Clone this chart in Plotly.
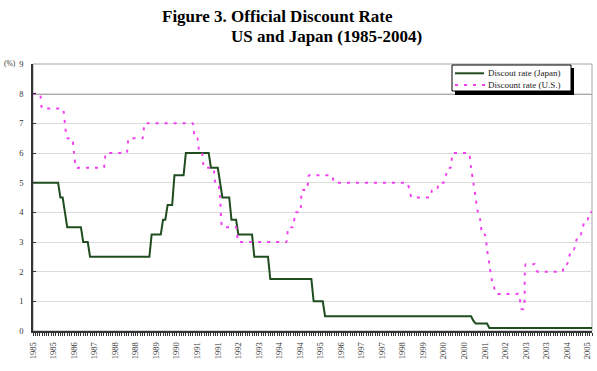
import plotly.graph_objects as go

# Monthly categories: Jan 1985 .. Jun 2005
years = list(range(1985, 2006))
months = [f"{y}-{m:02d}" for y in years for m in range(1, 13)][:246]

# Official discount rate, Japan (%), monthly
japan = [
    5.0, 5.0, 5.0, 5.0, 5.0, 5.0, 5.0, 5.0, 5.0, 5.0, 5.0, 5.0,          # 1985
    4.5, 4.5, 4.0, 3.5, 3.5, 3.5, 3.5, 3.5, 3.5, 3.5, 3.0, 3.0,          # 1986
    3.0, 2.5, 2.5, 2.5, 2.5, 2.5, 2.5, 2.5, 2.5, 2.5, 2.5, 2.5,          # 1987
    2.5, 2.5, 2.5, 2.5, 2.5, 2.5, 2.5, 2.5, 2.5, 2.5, 2.5, 2.5,          # 1988
    2.5, 2.5, 2.5, 2.5, 3.25, 3.25, 3.25, 3.25, 3.25, 3.75, 3.75, 4.25,  # 1989
    4.25, 4.25, 5.25, 5.25, 5.25, 5.25, 5.25, 6.0, 6.0, 6.0, 6.0, 6.0,   # 1990
    6.0, 6.0, 6.0, 6.0, 6.0, 6.0, 5.5, 5.5, 5.5, 5.5, 5.0, 4.5,          # 1991
    4.5, 4.5, 4.5, 3.75, 3.75, 3.75, 3.25, 3.25, 3.25, 3.25, 3.25, 3.25, # 1992
    3.25, 2.5, 2.5, 2.5, 2.5, 2.5, 2.5, 2.5, 1.75, 1.75, 1.75, 1.75,     # 1993
    1.75, 1.75, 1.75, 1.75, 1.75, 1.75, 1.75, 1.75, 1.75, 1.75, 1.75, 1.75,  # 1994
    1.75, 1.75, 1.75, 1.0, 1.0, 1.0, 1.0, 1.0, 0.5, 0.5, 0.5, 0.5,       # 1995
    0.5, 0.5, 0.5, 0.5, 0.5, 0.5, 0.5, 0.5, 0.5, 0.5, 0.5, 0.5,          # 1996
    0.5, 0.5, 0.5, 0.5, 0.5, 0.5, 0.5, 0.5, 0.5, 0.5, 0.5, 0.5,          # 1997
    0.5, 0.5, 0.5, 0.5, 0.5, 0.5, 0.5, 0.5, 0.5, 0.5, 0.5, 0.5,          # 1998
    0.5, 0.5, 0.5, 0.5, 0.5, 0.5, 0.5, 0.5, 0.5, 0.5, 0.5, 0.5,          # 1999
    0.5, 0.5, 0.5, 0.5, 0.5, 0.5, 0.5, 0.5, 0.5, 0.5, 0.5, 0.5,          # 2000
    0.5, 0.35, 0.25, 0.25, 0.25, 0.25, 0.25, 0.25, 0.1, 0.1, 0.1, 0.1,   # 2001
    0.1, 0.1, 0.1, 0.1, 0.1, 0.1, 0.1, 0.1, 0.1, 0.1, 0.1, 0.1,          # 2002
    0.1, 0.1, 0.1, 0.1, 0.1, 0.1, 0.1, 0.1, 0.1, 0.1, 0.1, 0.1,          # 2003
    0.1, 0.1, 0.1, 0.1, 0.1, 0.1, 0.1, 0.1, 0.1, 0.1, 0.1, 0.1,          # 2004
    0.1, 0.1, 0.1, 0.1, 0.1, 0.1,                                        # 2005
]

# Official discount rate, U.S. (%), monthly
us = [
    8.0, 8.0, 8.0, 8.0, 7.5, 7.5, 7.5, 7.5, 7.5, 7.5, 7.5, 7.5,          # 1985
    7.5, 7.5, 7.0, 6.5, 6.5, 6.5, 6.0, 5.5, 5.5, 5.5, 5.5, 5.5,          # 1986
    5.5, 5.5, 5.5, 5.5, 5.5, 5.5, 5.5, 5.5, 6.0, 6.0, 6.0, 6.0,          # 1987
    6.0, 6.0, 6.0, 6.0, 6.0, 6.0, 6.5, 6.5, 6.5, 6.5, 6.5, 6.5,          # 1988
    6.5, 7.0, 7.0, 7.0, 7.0, 7.0, 7.0, 7.0, 7.0, 7.0, 7.0, 7.0,          # 1989
    7.0, 7.0, 7.0, 7.0, 7.0, 7.0, 7.0, 7.0, 7.0, 7.0, 7.0, 6.5,          # 1990
    6.5, 6.0, 6.0, 5.5, 5.5, 5.5, 5.5, 5.5, 5.0, 5.0, 4.5, 3.5,          # 1991
    3.5, 3.5, 3.5, 3.5, 3.5, 3.5, 3.0, 3.0, 3.0, 3.0, 3.0, 3.0,          # 1992
    3.0, 3.0, 3.0, 3.0, 3.0, 3.0, 3.0, 3.0, 3.0, 3.0, 3.0, 3.0,          # 1993
    3.0, 3.0, 3.0, 3.0, 3.5, 3.5, 3.5, 4.0, 4.0, 4.0, 4.75, 4.75,        # 1994
    4.75, 5.25, 5.25, 5.25, 5.25, 5.25, 5.25, 5.25, 5.25, 5.25, 5.25, 5.25,  # 1995
    5.0, 5.0, 5.0, 5.0, 5.0, 5.0, 5.0, 5.0, 5.0, 5.0, 5.0, 5.0,          # 1996
    5.0, 5.0, 5.0, 5.0, 5.0, 5.0, 5.0, 5.0, 5.0, 5.0, 5.0, 5.0,          # 1997
    5.0, 5.0, 5.0, 5.0, 5.0, 5.0, 5.0, 5.0, 5.0, 4.75, 4.5, 4.5,         # 1998
    4.5, 4.5, 4.5, 4.5, 4.5, 4.5, 4.5, 4.75, 4.75, 4.75, 5.0, 5.0,       # 1999
    5.0, 5.25, 5.5, 5.5, 6.0, 6.0, 6.0, 6.0, 6.0, 6.0, 6.0, 6.0,         # 2000
    5.5, 5.0, 4.5, 4.0, 3.75, 3.25, 3.25, 2.75, 2.25, 1.75, 1.5, 1.25,   # 2001
    1.25, 1.25, 1.25, 1.25, 1.25, 1.25, 1.25, 1.25, 1.25, 1.25, 0.75, 0.75,  # 2002
    2.25, 2.25, 2.25, 2.25, 2.25, 2.0, 2.0, 2.0, 2.0, 2.0, 2.0, 2.0,     # 2003
    2.0, 2.0, 2.0, 2.0, 2.0, 2.25, 2.25, 2.5, 2.75, 2.75, 3.0, 3.25,     # 2004
    3.25, 3.5, 3.75, 3.75, 4.0, 4.0,                                     # 2005
]

series_names = ["Discout rate (Japan)", "Discount rate (U.S.)"]
series_colors = ["#1f4d1f", "#f040f0"]

# x-axis labels shown every 9 months
tick_labels = ["1985", "1985", "1986", "1987", "1988", "1988", "1989", "1990",
               "1991", "1991", "1992", "1993", "1994", "1994", "1995", "1996",
               "1997", "1997", "1998", "1999", "2000", "2000", "2001", "2002",
               "2003", "2003", "2004", "2005"]
tick_step = 9

y_ticks = [0, 1, 2, 3, 4, 5, 6, 7, 8, 9]

idx = list(range(len(months)))
tick_idx = idx[::tick_step][:len(tick_labels)]

SERIF = "Liberation Serif, Times New Roman, serif"
US_DASH = "3px,6px"

# figure geometry (pixels) -> paper helpers
W, H = 597, 371
ML, MR, MT, MB = 33, 5, 64, 40
PW, PH = W - ML - MR, H - MT - MB


def px(x):
    return (x - ML) / PW


def py(y):
    return (H - MB - y) / PH


fig = go.Figure()
fig.add_trace(go.Scatter(
    x=idx, y=japan, mode="lines", name=series_names[0],
    line=dict(color=series_colors[0], width=2), customdata=months,
))
fig.add_trace(go.Scatter(
    x=idx, y=us, mode="lines", name=series_names[1],
    line=dict(color=series_colors[1], width=2, dash=US_DASH,
              shape="spline", smoothing=0.8),
    customdata=months,
))

# legend box (drawn by hand to match the compact framed legend with shadow)
lg_x0, lg_x1, lg_y0, lg_y1 = 452, 571, 65, 91
legend_shapes = [
    dict(type="rect", xref="paper", yref="paper",
         x0=px(lg_x0 + 3), x1=px(lg_x1 + 3), y0=py(lg_y1 + 4), y1=py(lg_y0 + 3),
         fillcolor="black", line=dict(width=0), layer="above"),
    dict(type="rect", xref="paper", yref="paper",
         x0=px(lg_x0), x1=px(lg_x1), y0=py(lg_y1), y1=py(lg_y0),
         fillcolor="white", line=dict(color="black", width=1), layer="above"),
    dict(type="line", xref="paper", yref="paper",
         x0=px(455), x1=px(484), y0=py(73.3), y1=py(73.3),
         line=dict(color=series_colors[0], width=2), layer="above"),
    dict(type="line", xref="paper", yref="paper",
         x0=px(455), x1=px(485), y0=py(85), y1=py(85),
         line=dict(color=series_colors[1], width=2, dash=US_DASH), layer="above"),
]
legend_texts = [
    dict(text=series_names[0], xref="paper", yref="paper", x=px(485.5), y=py(73.3),
         xanchor="left", yanchor="middle", showarrow=False,
         font=dict(family=SERIF, size=9, color="#222")),
    dict(text=series_names[1], xref="paper", yref="paper", x=px(485.5), y=py(85),
         xanchor="left", yanchor="middle", showarrow=False,
         font=dict(family=SERIF, size=9, color="#222")),
]

fig.update_layout(
    width=W, height=H,
    margin=dict(l=ML, r=MR, t=MT, b=MB),
    paper_bgcolor="white", plot_bgcolor="white",
    font=dict(family=SERIF, color="#222"),
    showlegend=False,
    xaxis=dict(
        range=[0, len(months) - 1],
        showline=True, linecolor="#333", linewidth=1.5,
        showgrid=False, zeroline=False,
        ticks="outside", ticklen=3, tickwidth=1, tickcolor="#333",
        tickmode="array", tickvals=tick_idx, ticktext=tick_labels,
        tickangle=-90, tickfont=dict(family=SERIF, size=8.5, color="#333"),
        ticklabelstandoff=3,
        minor=dict(tick0=0, dtick=1, ticks="outside", ticklen=3,
                   tickwidth=1, tickcolor="#333", showgrid=False),
    ),
    yaxis=dict(
        range=[0, 9], tickmode="array", tickvals=y_ticks,
        showline=True, linecolor="#333", linewidth=1.5,
        showgrid=True, gridcolor="#dcdcdc", gridwidth=1,
        zeroline=False,
        ticks="inside", ticklen=3, tickcolor="#333",
        tickfont=dict(family=SERIF, size=8.5, color="#333"),
        ticklabelstandoff=6,
    ),
    shapes=[
        # plot-area border (top/right)
        dict(type="rect", xref="paper", yref="paper", x0=0, x1=1, y0=0, y1=1,
             line=dict(color="#a6a6a6", width=1), layer="between"),
        # dark reference line at 8%
        dict(type="line", xref="paper", yref="y", x0=0, x1=1, y0=8, y1=8,
             line=dict(color="#555", width=1.5), layer="between"),
    ] + legend_shapes,
    annotations=[
        dict(text="<b>Figure 3. Official Discount Rate</b>", xref="paper", yref="paper",
             x=px(277), y=py(16.5), xanchor="center", yanchor="middle", showarrow=False,
             font=dict(family=SERIF, size=17, color="black")),
        dict(text="<b>US and Japan (1985-2004)</b>", xref="paper", yref="paper",
             x=px(326), y=py(37), xanchor="center", yanchor="middle", showarrow=False,
             font=dict(family=SERIF, size=17, color="black")),
        dict(text="(%)", xref="paper", yref="paper", x=px(2), y=py(63.5),
             xanchor="left", yanchor="middle", showarrow=False,
             font=dict(family=SERIF, size=7.5, color="#333")),
    ] + legend_texts,
)

fig.write_html("out.html")
